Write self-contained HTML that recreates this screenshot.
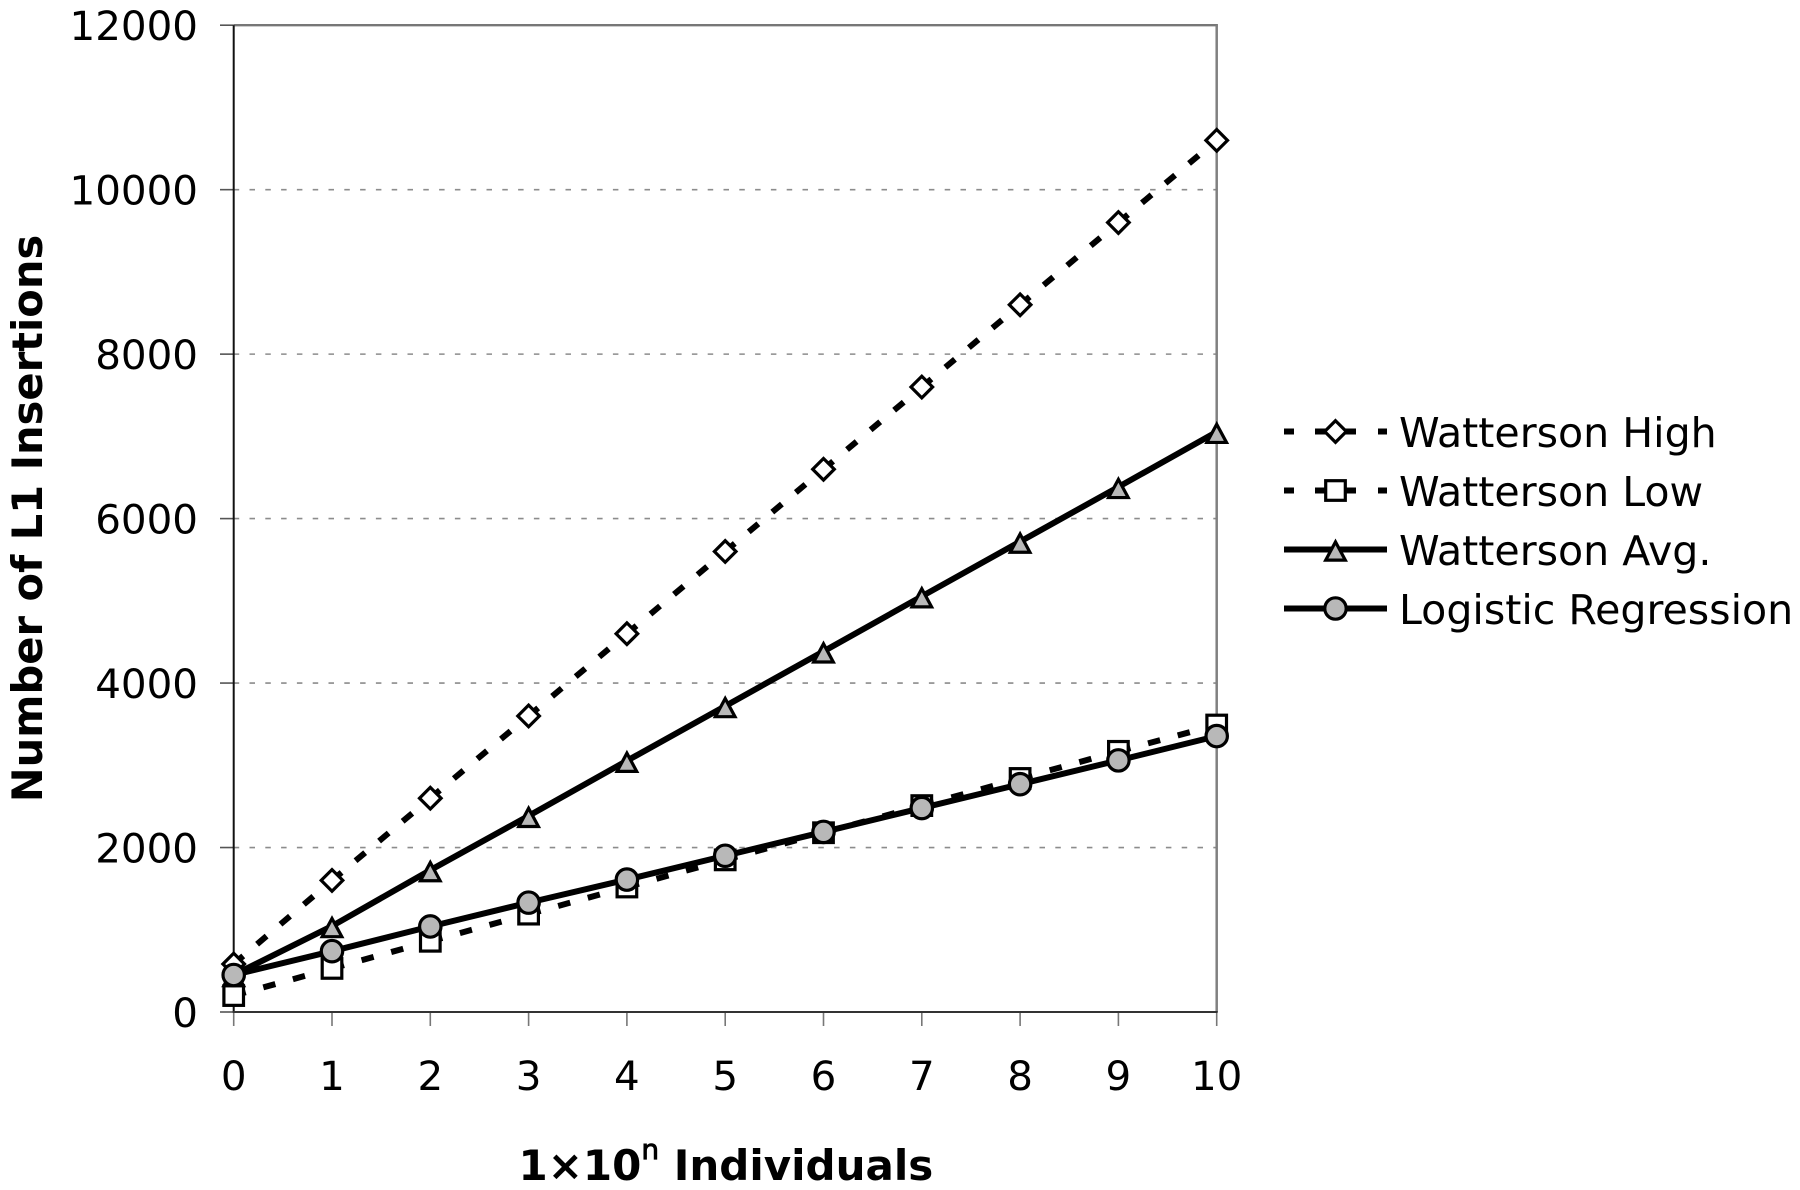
<!DOCTYPE html>
<html lang="en">
<head>
<meta charset="utf-8">
<title>L1 Insertions Chart</title>
<style>
html,body{margin:0;padding:0;background:#fff;}
#chart{display:block;width:1800px;height:1190px;}
text{font-family:"DejaVu Sans","Liberation Sans",sans-serif;fill:#000;}
</style>
</head>
<body>
<svg id="chart" xmlns="http://www.w3.org/2000/svg" width="1800" height="1190" viewBox="0 0 1800 1190">
  <rect x="0" y="0" width="1800" height="1190" fill="#fff"/>
  <g id="grid"></g>
  <g id="axes"></g>
  <g id="series"></g>
  <text x="0" y="0" transform="translate(42,518.5) rotate(-90)" text-anchor="middle" font-size="41.6" font-weight="bold">Number of L1 Insertions</text>
  <text x="518.5" y="1180" font-size="42" font-weight="bold">1×10<tspan font-size="28" font-weight="normal" stroke="#000" stroke-width="0.9" dy="-21">n</tspan><tspan dy="21" stroke="none"> Individuals</tspan></text>
  <g id="legend"></g>
</svg>
<script>
const xCategories = [0, 1, 2, 3, 4, 5, 6, 7, 8, 9, 10];
const yTickLabels = [0, 2000, 4000, 6000, 8000, 10000, 12000];
const wattersonHigh = [583, 1600, 2600, 3600, 4600, 5600, 6600, 7600, 8600, 9600, 10600];
const wattersonLow = [200, 530, 860, 1190, 1520, 1850, 2180, 2510, 2840, 3170, 3490];
const wattersonAvg = [450, 1045, 1725, 2385, 3055, 3720, 4385, 5055, 5720, 6385, 7055];
const logisticRegression = [450, 740, 1040, 1330, 1610, 1900, 2190, 2480, 2770, 3060, 3355];
const legendLabels = ["Watterson High", "Watterson Low", "Watterson Avg.", "Logistic Regression"];

const NS = "http://www.w3.org/2000/svg";
const plot = { left: 233.7, right: 1216.7, top: 25.2, bottom: 1012, xMax: 10, yMax: 12000 };
function xScale(v) { return plot.left + (v / plot.xMax) * (plot.right - plot.left); }
function yScale(v) { return plot.bottom - (v / plot.yMax) * (plot.bottom - plot.top); }

function make(tag, parent, attrs) {
  const el = document.createElementNS(NS, tag);
  for (const k in attrs) el.setAttribute(k, attrs[k]);
  parent.appendChild(el);
  return el;
}

const grid = document.getElementById("grid");
const axes = document.getElementById("axes");
const seriesLayer = document.getElementById("series");
const legend = document.getElementById("legend");

yTickLabels.forEach(function (t) {
  const y = yScale(t);
  if (t !== 0 && t !== plot.yMax) {
    const g = make("line", grid, { x1: plot.left, x2: plot.right, y1: y, y2: y, stroke: "#8c8c8c", "stroke-width": 1.6, "stroke-dasharray": "5.5 10.3" });
    
    
  }
  const tick = make("line", axes, { x1: 220, x2: plot.left, y1: y, y2: y, stroke: "#555", "stroke-width": 1.6 });
  
  
  const label = make("text", axes, { x: 198, y: y + 15, "text-anchor": "end", "font-size": 40.4 });
  label.textContent = t;
  
  
});

xCategories.forEach(function (c) {
  const x = xScale(c);
  const tick = make("line", axes, { x1: x, x2: x, y1: plot.bottom, y2: 1026, stroke: "#777", "stroke-width": 1.6 });
  
  
  const label = make("text", axes, { x: x, y: 1090, "text-anchor": "middle", "font-size": 40.4 });
  label.textContent = c;
  
  
});

const frameTop = make("line", axes, { x1: plot.left, x2: plot.right + 1.2, y1: plot.top, y2: plot.top, stroke: "#777", "stroke-width": 2.4 });


const frameRight = make("line", axes, { x1: plot.right, x2: plot.right, y1: plot.top, y2: plot.bottom, stroke: "#808080", "stroke-width": 2.5 });


const axisY = make("line", axes, { x1: plot.left, x2: plot.left, y1: plot.top, y2: plot.bottom, stroke: "#111", "stroke-width": 2 });


const axisX = make("line", axes, { x1: plot.left - 1, x2: plot.right + 1, y1: plot.bottom, y2: plot.bottom, stroke: "#333", "stroke-width": 2 });



function drawMarker(parent, kind, x, y) {
  const common = { stroke: "#000", "stroke-width": 3.2, "stroke-linejoin": "miter", "stroke-miterlimit": 6 };
  let m;
  if (kind === "diamond") {
    m = make("polygon", parent, Object.assign({ points: [x, y - 10.8, x + 10.8, y, x, y + 10.8, x - 10.8, y].join(" "), fill: "#fff" }, common));
  } else if (kind === "square") {
    m = make("rect", parent, Object.assign({ x: x - 9.8, y: y - 9.8, width: 19.6, height: 19.6, fill: "#fff" }, common));
  } else if (kind === "triangle") {
    m = make("polygon", parent, Object.assign({ points: [x, y - 7.6, x + 9.8, y + 10.6, x - 9.8, y + 10.6].join(" "), fill: "#b8b8b8" }, common));
  } else {
    m = make("circle", parent, Object.assign({ cx: x, cy: y, r: 10.7, fill: "#b8b8b8" }, common));
  }
  return m;
}

function drawSeries(values, name, kind, dashed) {
  const g = make("g", seriesLayer, {});
  
  
  if (dashed) {
    /* the dash pattern restarts at each data point */
    for (let i = 0; i < values.length - 1; i++) {
      const seg = make("line", g, { x1: xScale(xCategories[i]), y1: yScale(values[i]), x2: xScale(xCategories[i + 1]), y2: yScale(values[i + 1]), stroke: "#000", "stroke-width": 6, "stroke-dasharray": "12.5 18.2" });
      
      
    }
  } else {
    const pts = values.map(function (v, i) { return xScale(xCategories[i]) + "," + yScale(v); }).join(" ");
    const line = make("polyline", g, { points: pts, fill: "none", stroke: "#000", "stroke-width": 6, "stroke-linejoin": "round" });
    
    
  }
  values.forEach(function (v, i) {
    const m = drawMarker(g, kind, xScale(xCategories[i]), yScale(v));
    
    
  });
}

drawSeries(wattersonHigh, "watterson-high", "diamond", true);
drawSeries(wattersonLow, "watterson-low", "square", true);
drawSeries(wattersonAvg, "watterson-avg", "triangle", false);
drawSeries(logisticRegression, "logistic-regression", "circle", false);

const legendKinds = ["diamond", "square", "triangle", "circle"];
const legendNames = ["watterson-high", "watterson-low", "watterson-avg", "logistic-regression"];
legendLabels.forEach(function (lab, i) {
  const y = 431.5 + i * 59;
  const g = make("g", legend, {});
  
  
  const line = make("line", g, { x1: 1284, x2: 1387, y1: y, y2: y, stroke: "#000", "stroke-width": 6 });
  if (i < 2) line.setAttribute("stroke-dasharray", "10 21 41 22 9");
  
  
  const m = drawMarker(g, legendKinds[i], 1335.5, y);
  
  
  const t = make("text", g, { x: 1399, y: y + 15.5, "font-size": 41.1 });
  t.textContent = lab;
  
  
});
</script>
</body>
</html>
